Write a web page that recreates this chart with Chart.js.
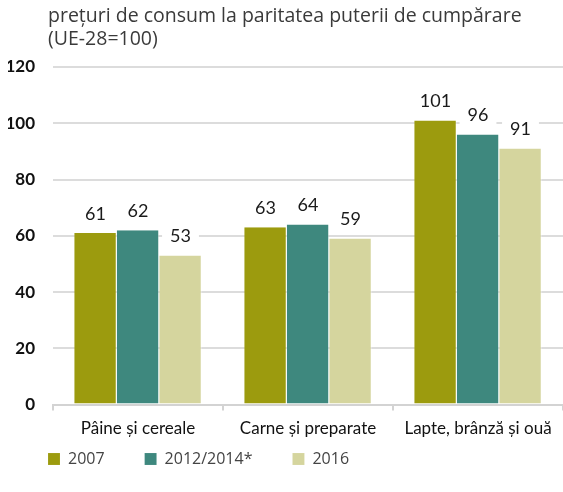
<!DOCTYPE html>
<html>
<head>
<title>Preturi de consum</title>
<script src="https://cdn.jsdelivr.net/npm/chart.js@4.4.1/dist/chart.umd.min.js"></script>
<style>
  body { margin: 0; background: #fff; }
  #wrap { width: 563px; height: 492px; position: relative; }
  #title {
    position: absolute; left: 48px; top: 3px;
    font: 19.5px/23px 'Open Sans', 'Noto Sans', sans-serif;
    color: #3a3a3a; white-space: nowrap;
  }
</style>
</head>
<body>
<div id="wrap">
  <canvas id="myChart"></canvas>
  <div id="title"></div>
</div>
<script>
// data
var categories = ['Pâine și cereale', 'Carne și preparate', 'Lapte, brânză și ouă'];
var seriesNames = ['2007', '2012/2014*', '2016'];
var values2007 = [61, 63, 101];
var values2012 = [62, 64, 96];
var values2016 = [53, 59, 91];
var yTicks = [0, 20, 40, 60, 80, 100, 120];
var titleLines = ['prețuri de consum la paritatea puterii de cumpărare', '(UE-28=100)'];

document.getElementById('title').innerHTML = titleLines.join('<br>');

var colors = ['#9c9b0e', '#3e887e', '#d5d59e'];
var narrow = "Lato, 'Open Sans', sans-serif";
var regular = "'Open Sans', 'Noto Sans', sans-serif";

// value labels above the bars, on a white box so the grid line is cut
var valueLabels = {
  id: 'valueLabels',
  afterDatasetsDraw: function(chart) {
    var ctx = chart.ctx;
    ctx.save();
    ctx.font = '18px ' + narrow;
    ctx.textAlign = 'center';
    ctx.textBaseline = 'middle';
    chart.data.datasets.forEach(function(ds, i) {
      var meta = chart.getDatasetMeta(i);
      meta.data.forEach(function(bar, j) {
        var txt = String(ds.data[j]);
        var y = bar.y - 19;
        var w = ctx.measureText(txt).width + 16;
        ctx.fillStyle = '#fff';
        ctx.fillRect(bar.x - w / 2, y - 10, w, 20);
        ctx.fillStyle = '#1a1a1a';
        ctx.fillText(txt, bar.x, y);
      });
    });
    ctx.restore();
  }
};

// the legend label padding is also used vertically, so keep the box short
// for the layout, then move it up and give it room to draw (it clips)
var legendSpacing = {
  id: 'legendSpacing',
  beforeInit: function(chart) {
    var lg = chart.legend;
    var origFit = lg.fit;
    lg.fit = function() {
      origFit.call(this);
      this.height = 19;
    };
  },
  afterLayout: function(chart) {
    var lg = chart.legend;
    lg.top -= 36;
    lg.bottom = lg.top + 80;
    lg.height = 80;
  }
};

var ctx = document.getElementById('myChart').getContext('2d');
var chart = new Chart(ctx, {
  type: 'bar',
  data: {
    labels: categories,
    datasets: [
      { label: seriesNames[0], data: values2007, backgroundColor: colors[0] },
      { label: seriesNames[1], data: values2012, backgroundColor: colors[1] },
      { label: seriesNames[2], data: values2016, backgroundColor: colors[2] }
    ]
  },
  options: {
    responsive: true,
    maintainAspectRatio: false,
    animation: false,
    layout: { padding: { left: 8, right: 0, top: 67, bottom: 26 } },
    datasets: {
      bar: {
        categoryPercentage: 0.75,
        barPercentage: 1.0,
        borderWidth: { right: 1 },
        borderColor: 'rgba(255,255,255,0.45)'
      }
    },
    plugins: {
      legend: {
        position: 'bottom',
        align: 'start',
        labels: {
          boxWidth: 12,
          boxHeight: 12,
          padding: 40,
          color: '#444',
          font: { family: regular, size: 16 }
        }
      },
      tooltip: { enabled: false }
    },
    scales: {
      x: {
        border: { display: true, color: '#d3d3d3', width: 2 },
        grid: { display: true, offset: true, drawOnChartArea: false, drawTicks: true, tickLength: 6, color: '#d3d3d3', lineWidth: 2 },
        ticks: { color: '#111', padding: 8, font: { family: narrow, size: 17 } }
      },
      y: {
        min: 0,
        max: 120,
        afterBuildTicks: function(axis) { axis.ticks = yTicks.map(function(v) { return { value: v }; }); },
        afterFit: function(axis) { axis.width = 45; },
        border: { display: false },
        grid: { color: '#dcdcdc', lineWidth: 2, drawTicks: false },
        ticks: { color: '#111', padding: 18, font: { family: narrow, size: 17, weight: 'bold' } }
      }
    }
  },
  plugins: [valueLabels, legendSpacing]
});
</script>
</body>
</html>
